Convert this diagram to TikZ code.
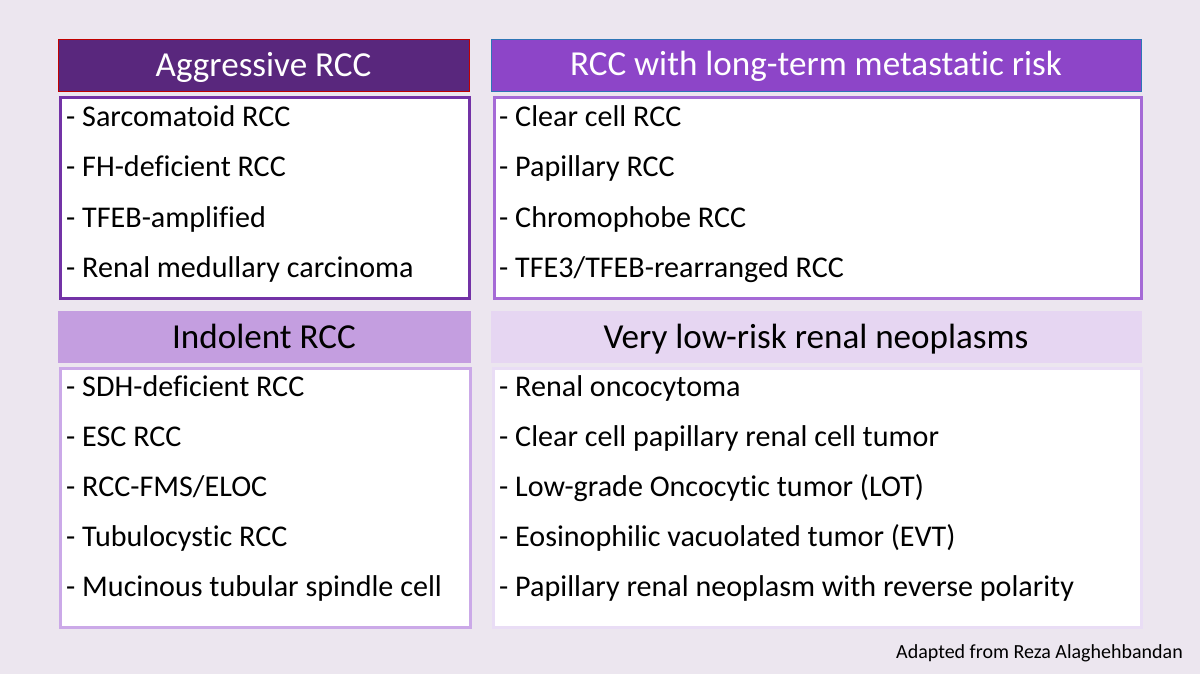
\documentclass[tikz,border=0pt]{standalone}
\usepackage{fontspec}
\setmainfont{Carlito}[Ligatures=NoCommon]
\definecolor{bg}{HTML}{ECE6EF}
\definecolor{hA}{HTML}{59277D}
\definecolor{hB}{HTML}{8D45C8}
\definecolor{hC}{HTML}{C49EE0}
\definecolor{hD}{HTML}{E6D6F2}
\definecolor{bA}{HTML}{7332A6}
\definecolor{bB}{HTML}{A56AD6}
\definecolor{bC}{HTML}{CBA9E8}
\definecolor{bD}{HTML}{E9DDF5}
\definecolor{redline}{HTML}{C00000}
\definecolor{blueline}{HTML}{2E75B6}
\tikzset{
  hdr/.style={anchor=north west, inner sep=0pt, line width=1pt},
  bodybox/.style={anchor=north west, inner sep=0pt, fill=white, line width=2.6pt},
  item/.style={anchor=base west, inner sep=0pt, font=\fontsize{30.1}{32}\selectfont},
  hlabel/.style={anchor=base, inner sep=0pt, font=\fontsize{35.1}{37}\selectfont}
}
\begin{document}
\begin{tikzpicture}[x=1pt,y=-1pt]
\useasboundingbox (0,0) rectangle (1200,674);
\fill[bg] (0,0) rectangle (1200,674);

% Box headers
\node[hdr, fill=hA, draw=redline, minimum width=411pt, minimum height=52pt] (hA) at (58,39) {};
\node[hdr, fill=hB, draw=blueline, minimum width=650pt, minimum height=52pt] (hB) at (491,39) {};
\node[hdr, fill=hC, draw=hC, minimum width=412pt, minimum height=51pt] (hC) at (58,311) {};
\node[hdr, fill=hD, draw=hD, minimum width=650pt, minimum height=51pt] (hD) at (491,311) {};

\node[hlabel, text=white] (tA) at (263.5,76.5) {Aggressive RCC};
\node[hlabel, text=white] (tB) at (816,75.5) {RCC with long-term metastatic risk};
\node[hlabel, text=black] (tC) at (264,348) {Indolent RCC};
\node[hlabel, text=black] (tD) at (816,348) {Very low-risk renal neoplasms};

% Bodies
\node[bodybox, draw=bA, minimum width=409pt, minimum height=201pt] (bA) at (59,96) {};
\node[bodybox, draw=bB, minimum width=647pt, minimum height=201pt] (bB) at (493,96) {};
\node[bodybox, draw=bC, minimum width=410pt, minimum height=259pt] (bC) at (59,367) {};
\node[bodybox, draw=bD, minimum width=648pt, minimum height=259pt] (bD) at (492,367) {};

% Items
\node[item] (a1) at (66,127) {- Sarcomatoid RCC};
\node[item] (a2) at (66,177) {- FH-deficient RCC};
\node[item] (a3) at (66,227) {- TFEB-amplified};
\node[item] (a4) at (66,277) {- Renal medullary carcinoma};

\node[item] (b1) at (499,127) {- Clear cell RCC};
\node[item] (b2) at (499,177) {- Papillary RCC};
\node[item] (b3) at (499,227) {- Chromophobe RCC};
\node[item] (b4) at (499,277) {- TFE3/TFEB-rearranged RCC};

\node[item] (c1) at (66,396) {- SDH-deficient RCC};
\node[item] (c2) at (66,446) {- ESC RCC};
\node[item] (c3) at (66,496) {- RCC-FMS/ELOC};
\node[item] (c4) at (66,546) {- Tubulocystic RCC};
\node[item] (c5) at (66,596) {- Mucinous tubular spindle cell};

\node[item] (d1) at (499,396) {- Renal oncocytoma};
\node[item] (d2) at (499,446) {- Clear cell papillary renal cell tumor};
\node[item] (d3) at (499,496) {- Low-grade Oncocytic tumor (LOT)};
\node[item] (d4) at (499,546) {- Eosinophilic vacuolated tumor (EVT)};
\node[item] (d5) at (499,596) {- Papillary renal neoplasm with reverse polarity};

% Footer
\node[anchor=base east, inner sep=0pt, font=\fontsize{20}{22}\selectfont] (ft) at (1183,658) {Adapted from Reza Alaghehbandan};
\end{tikzpicture}
\end{document}
